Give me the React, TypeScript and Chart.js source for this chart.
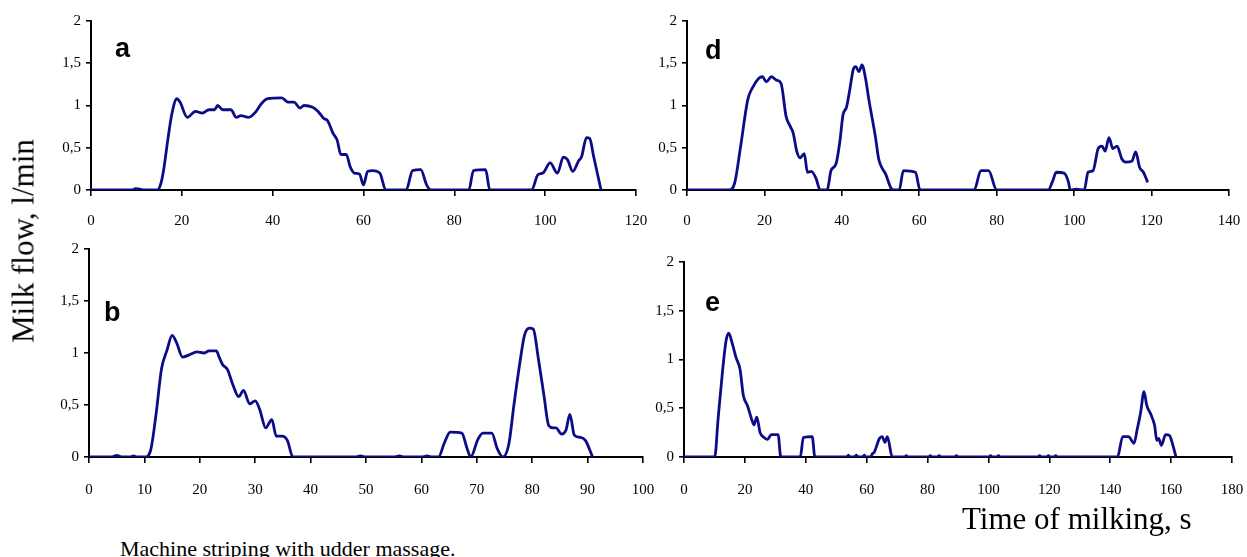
import React, { useEffect, useRef } from "react";
import { Chart, registerables } from "chart.js";

Chart.register(...registerables);

// ---------- data (time in s, milk flow in l/min) ----------
const timeA = [0, 9, 9.8, 10.8, 11.5, 14.6, 15.4, 16, 16.9, 17.8, 18.9, 19.6, 21.2, 23, 24.5, 26, 27.2, 27.9, 29, 30.8, 32, 33, 34.7, 36.2, 37.5, 38.9, 42, 43.4, 44.7, 46, 46.9, 48.8, 50, 51.2, 52.1, 53.3, 54.2, 55, 56.2, 57.1, 58, 59.1, 60, 60.9, 62, 63.6, 64.9, 69.4, 70.8, 72.6, 73.9, 74.8, 83.2, 84.2, 86.9, 87.8, 97, 98.4, 99.5, 101.1, 102.7, 104, 104.9, 106.1, 107.4, 108, 109.1, 109.8, 110.7, 112.3];
const flowA = [0, 0, 0.015, 0.01, 0, 0, 0.08, 0.24, 0.59, 0.9, 1.08, 1.04, 0.86, 0.93, 0.91, 0.95, 0.95, 1.0, 0.95, 0.95, 0.86, 0.88, 0.86, 0.92, 1.02, 1.08, 1.09, 1.04, 1.04, 0.97, 1.0, 0.98, 0.93, 0.85, 0.82, 0.67, 0.59, 0.42, 0.42, 0.27, 0.2, 0.19, 0.06, 0.22, 0.23, 0.2, 0, 0, 0.23, 0.24, 0.06, 0, 0, 0.23, 0.24, 0, 0, 0.18, 0.2, 0.32, 0.2, 0.39, 0.36, 0.22, 0.35, 0.39, 0.62, 0.61, 0.39, 0];

const timeB = [0, 4, 5, 6, 7.5, 8, 8.7, 10.1, 11.1, 12.1, 13.1, 14.1, 15, 15.8, 16.9, 18, 19.5, 20.7, 21.7, 23, 23.5, 24.1, 25, 26, 27, 27.9, 29, 30, 30.8, 31.9, 33, 33.8, 34.8, 35.8, 36.8, 48, 49, 50, 55, 56, 57, 60, 61, 62, 63.1, 64.1, 65.2, 67.3, 68.2, 68.9, 70.2, 71.1, 72.7, 73.7, 74.7, 75.8, 76.7, 77.7, 78.6, 79.5, 80.2, 81.1, 82.1, 83, 83.8, 84.3, 85.3, 86.1, 86.8, 87.6, 88.5, 89.6, 90.9];
const flowB = [0, 0, 0.015, 0, 0, 0.01, 0, 0, 0.06, 0.41, 0.85, 1.03, 1.17, 1.1, 0.96, 0.98, 1.01, 1.0, 1.02, 1.02, 0.96, 0.89, 0.84, 0.69, 0.58, 0.64, 0.51, 0.54, 0.46, 0.28, 0.36, 0.2, 0.2, 0.16, 0, 0, 0.01, 0, 0, 0.01, 0, 0, 0.01, 0, 0, 0.13, 0.24, 0.23, 0.09, 0, 0.17, 0.23, 0.23, 0.08, 0, 0.13, 0.5, 0.88, 1.17, 1.24, 1.23, 0.95, 0.6, 0.3, 0.28, 0.28, 0.22, 0.26, 0.41, 0.21, 0.19, 0.16, 0];

const timeD = [0, 10.8, 12.3, 13.8, 15.7, 16.9, 18.5, 19.5, 20.5, 21.8, 23.1, 24.3, 25.6, 26.7, 27.4, 28.4, 29.2, 30.3, 31.1, 32.1, 33.3, 34.4, 36.2, 37.2, 38.5, 39.5, 40.3, 41.2, 42.1, 42.9, 43.6, 44.4, 45.2, 46.2, 46.9, 47.9, 48.7, 49.5, 50.5, 51.3, 52.6, 53.3, 54.8, 55.9, 59, 60.2, 74.2, 75.9, 77.9, 80, 93.3, 94.4, 95.4, 97.4, 98.5, 99, 100.5, 102.6, 103.6, 104.9, 106.2, 107.2, 108, 109, 110, 111.1, 112.3, 113.3, 114.9, 115.9, 116.9, 117.9, 119];
const flowD = [0, 0, 0.08, 0.5, 1.07, 1.21, 1.32, 1.34, 1.28, 1.34, 1.3, 1.26, 0.87, 0.75, 0.68, 0.45, 0.38, 0.43, 0.21, 0.22, 0.14, 0, 0, 0.23, 0.31, 0.58, 0.89, 0.98, 1.2, 1.42, 1.46, 1.4, 1.48, 1.3, 1.09, 0.83, 0.62, 0.37, 0.25, 0.19, 0.03, 0, 0, 0.23, 0.21, 0, 0, 0.23, 0.23, 0, 0, 0.1, 0.21, 0.2, 0.1, 0, 0.01, 0, 0.21, 0.23, 0.49, 0.52, 0.46, 0.62, 0.49, 0.52, 0.37, 0.33, 0.34, 0.45, 0.27, 0.21, 0.09];

const timeE = [0, 10.1, 11.2, 12.5, 13.8, 14.7, 15.8, 17.1, 18.4, 19.5, 20.8, 22.4, 23, 23.9, 25, 26.3, 27.4, 28.7, 30.9, 31.8, 38.2, 39.2, 42.1, 43, 53.5, 54, 54.5, 56, 56.6, 57.2, 58.7, 59.2, 59.7, 61.3, 61.8, 62.5, 64.2, 65.1, 66, 66.8, 68.4, 72.5, 73, 73.5, 80.4, 80.9, 81.4, 83.3, 83.8, 84.3, 89, 89.5, 90, 100.2, 100.7, 101.2, 102.8, 103.3, 103.8, 116.3, 116.8, 117.3, 119.2, 119.7, 120.2, 121.6, 122.1, 122.6, 142.4, 144.1, 146, 147.8, 148.9, 150, 151.1, 152, 153.3, 154.6, 155.3, 155.9, 156.8, 158.2, 159.5, 160.5, 161.6];
const flowE = [0, 0, 0.39, 0.83, 1.19, 1.27, 1.17, 1.02, 0.9, 0.63, 0.53, 0.37, 0.33, 0.41, 0.25, 0.2, 0.18, 0.23, 0.23, 0, 0, 0.2, 0.21, 0, 0, 0.02, 0, 0, 0.02, 0, 0, 0.02, 0, 0, 0.03, 0.05, 0.19, 0.21, 0.15, 0.21, 0, 0, 0.015, 0, 0, 0.015, 0, 0, 0.015, 0, 0, 0.015, 0, 0, 0.015, 0, 0, 0.015, 0, 0, 0.015, 0, 0, 0.015, 0, 0, 0.015, 0, 0, 0.21, 0.21, 0.14, 0.29, 0.46, 0.67, 0.53, 0.44, 0.32, 0.17, 0.19, 0.12, 0.23, 0.22, 0.13, 0];

const yTickValues = [0, 0.5, 1, 1.5, 2];
const yTickLabels = ["0", "0,5", "1", "1,5", "2"];

const xMaxA = 120, xStepA = 20;
const xMaxB = 100, xStepB = 10;
const xMaxD = 140, xStepD = 20;
const xMaxE = 180, xStepE = 20;

const panelLetters = ["a", "b", "d", "e"];
const yAxisTitle = "Milk flow, l/min";
const xAxisTitle = "Time of milking, s";
const captionText = "Machine striping with udder massage.";

// ---------- layout ----------
const PADL = 60, PADR = 40, PADT = 12, PADB = 45;
const SERIF = '"Liberation Serif", "Times New Roman", serif';
const SANS = '"Liberation Sans", Arial, sans-serif';
const LINE_COLOR = "#0c0c88";

type Box = { left: number; right: number; top: number; bottom: number };

function Panel(props: { time: number[]; flow: number[]; xMax: number; xStep: number; box: Box; xPad: number }) {
  const { time, flow, xMax, xStep, box, xPad } = props;
  const ref = useRef<HTMLCanvasElement | null>(null);
  const width = box.right - box.left + PADL + PADR;
  const height = box.bottom - box.top + PADT + PADB;

  useEffect(() => {
    if (!ref.current) return;
    const chart = new Chart(ref.current, {
      type: "line",
      data: {
        datasets: [
          {
            data: time.map((t, i) => ({ x: t, y: flow[i] })),
            borderColor: LINE_COLOR,
            borderWidth: 2.8,
            pointRadius: 0,
            fill: false,
            cubicInterpolationMode: "monotone",
          },
        ],
      },
      options: {
        responsive: false,
        animation: false,
        layout: { padding: { left: 0, right: PADR, top: PADT, bottom: 0 } },
        plugins: { legend: { display: false }, tooltip: { enabled: false } },
        scales: {
          x: {
            type: "linear",
            min: 0,
            max: xMax,
            afterFit: (s: any) => {
              s.height = PADB;
            },
            ticks: {
              stepSize: xStep,
              autoSkip: false,
              maxRotation: 0,
              color: "#000",
              padding: xPad,
              font: { family: SERIF, size: 15 },
            },
            grid: {
              display: true,
              drawOnChartArea: false,
              drawTicks: true,
              tickLength: 6,
              color: "#000",
              lineWidth: 1.6,
            },
            border: { display: true, color: "#000", width: 2 },
          },
          y: {
            min: 0,
            max: 2,
            afterFit: (s: any) => {
              s.width = PADL;
            },
            afterBuildTicks: (s: any) => {
              s.ticks = yTickValues.map((v) => ({ value: v }));
            },
            ticks: {
              color: "#000",
              padding: 5,
              font: { family: SERIF, size: 15 },
              callback: (v: any) => {
                const i = yTickValues.indexOf(Number(v));
                return i >= 0 ? yTickLabels[i] : "";
              },
            },
            grid: {
              display: true,
              drawOnChartArea: false,
              drawTicks: true,
              tickLength: 5,
              color: "#000",
              lineWidth: 1.6,
            },
            border: { display: true, color: "#000", width: 2 },
          },
        },
      } as any,
    });
    return () => chart.destroy();
  }, []);

  return (
    <canvas
      ref={ref}
      width={width}
      height={height}
      style={{
        position: "absolute",
        left: box.left - PADL,
        top: box.top - PADT,
        width,
        height,
      }}
    />
  );
}

const letterStyle = (left: number, top: number): React.CSSProperties => ({
  position: "absolute",
  left,
  top,
  fontFamily: SANS,
  fontWeight: "bold",
  fontSize: 27,
  lineHeight: 1,
  color: "#000",
});

export default function App() {
  return (
    <div
      style={{
        position: "absolute",
        left: 0,
        top: 0,
        width: 1247,
        height: 557,
        background: "#fff",
        overflow: "hidden",
      }}
    >
      <Panel time={timeA} flow={flowA} xMax={xMaxA} xStep={xStepA} xPad={16} box={{ left: 91, right: 636, top: 19, bottom: 190 }} />
      <Panel time={timeD} flow={flowD} xMax={xMaxD} xStep={xStepD} xPad={16} box={{ left: 687, right: 1229, top: 19, bottom: 190 }} />
      <Panel time={timeB} flow={flowB} xMax={xMaxB} xStep={xStepB} xPad={18} box={{ left: 89, right: 643, top: 247, bottom: 457 }} />
      <Panel time={timeE} flow={flowE} xMax={xMaxE} xStep={xStepE} xPad={18} box={{ left: 684, right: 1232, top: 260, bottom: 457 }} />

      <div style={letterStyle(115, 35)}>{panelLetters[0]}</div>
      <div style={letterStyle(104, 299)}>{panelLetters[1]}</div>
      <div style={letterStyle(705, 37)}>{panelLetters[2]}</div>
      <div style={letterStyle(705, 289)}>{panelLetters[3]}</div>

      <div
        style={{
          position: "absolute",
          left: 23,
          top: 241,
          transform: "translate(-50%, -50%) rotate(-90deg)",
          whiteSpace: "nowrap",
          fontFamily: SERIF,
          fontSize: 31,
          lineHeight: 1,
          color: "#000",
        }}
      >
        {yAxisTitle}
      </div>
      <div
        style={{
          position: "absolute",
          left: 962,
          top: 503,
          whiteSpace: "nowrap",
          fontFamily: SERIF,
          fontSize: 31,
          lineHeight: 1,
          color: "#000",
        }}
      >
        {xAxisTitle}
      </div>
      <div
        style={{
          position: "absolute",
          left: 120,
          top: 538,
          whiteSpace: "nowrap",
          fontFamily: SERIF,
          fontSize: 22,
          lineHeight: 1,
          color: "#000",
        }}
      >
        {captionText}
      </div>
    </div>
  );
}
